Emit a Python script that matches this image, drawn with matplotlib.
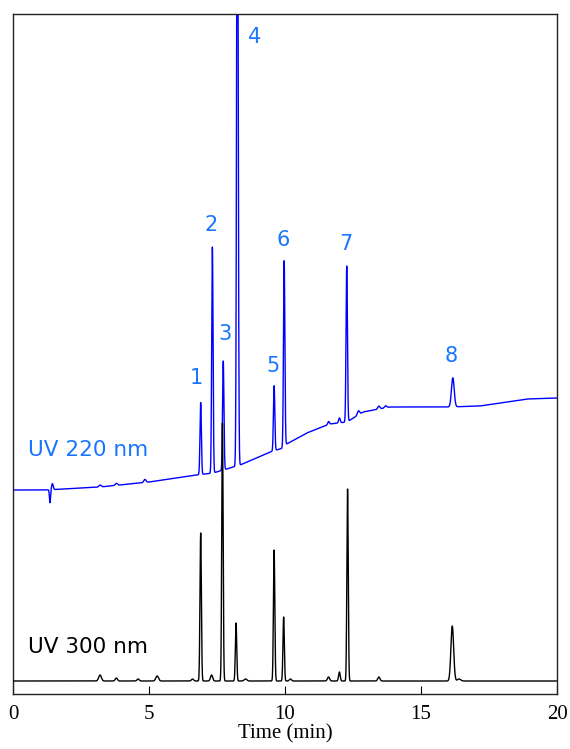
import numpy as np
import matplotlib
matplotlib.use("Agg")
import matplotlib.pyplot as plt

# retention times (min), heights and widths
# signal scale: arbitrary units, 0 = bottom of the frame, 680 = top

# UV 220 nm baseline (drift) knots
bl220_t = [0.0, 1.2, 3.2, 5.0, 6.75, 7.36, 8.35, 9.45, 9.93, 10.06, 10.8, 11.65, 12.28, 12.87, 13.86, 16.0, 17.16, 18.9, 20.0]
bl220_y = [204, 204, 207, 212, 219, 221, 229, 242, 246, 250, 261, 270, 272, 282, 287, 287, 288, 295, 296]

# UV 220 nm peaks: time, height, sigma
pk220_t = [1.36, 1.45, 3.2, 3.8, 4.85, 6.9, 7.33, 7.73, 8.25, 9.6, 9.97, 11.6, 12.0, 12.27, 12.7, 13.45, 13.7, 16.17]
pk220_h = [-13, 6, 2, 2, 3, 72, 226, 109, 700, 65, 186, 3, 5, 156, 4, 3, 2, 29]
pk220_w = [0.02, 0.03, 0.04, 0.04, 0.04, 0.025, 0.025, 0.025, 0.028, 0.025, 0.025, 0.03, 0.03, 0.025, 0.04, 0.04, 0.04, 0.05]

# UV 300 nm baseline and peaks
bl300_y = 13
pk300_t = [3.2, 3.8, 4.6, 5.3, 6.6, 6.9, 7.3, 7.7, 8.2, 8.55, 9.6, 9.95, 10.2, 11.6, 12.0, 12.3, 13.45, 16.15, 16.4]
pk300_h = [6, 3, 2, 5, 2, 148, 6, 258, 58, 2, 131, 64, 2, 4, 9, 192, 4, 55, 2]
pk300_w = [0.05, 0.04, 0.04, 0.05, 0.04, 0.025, 0.04, 0.025, 0.025, 0.05, 0.025, 0.025, 0.04, 0.04, 0.03, 0.025, 0.04, 0.05, 0.06]

peak_labels = ["1", "2", "3", "4", "5", "6", "7", "8"]
label_t = [6.75, 7.3, 7.8, 8.9, 9.55, 9.95, 12.25, 16.1]
label_y = [316, 469, 360, 657, 328, 454, 450, 338]


def trace(t, base, pt, ph, pw):
    y = np.asarray(base, dtype=float) + np.zeros_like(t)
    for c, h, w in zip(pt, ph, pw):
        y = y + h * np.exp(-0.5 * ((t - c) / w) ** 2)
    return y


t = np.linspace(0, 20, 8001)
y220 = trace(t, np.interp(t, bl220_t, bl220_y), pk220_t, pk220_h, pk220_w)
y300 = trace(t, bl300_y, pk300_t, pk300_h, pk300_w)

fig = plt.figure(figsize=(5.7, 7.49), dpi=100)
ax = fig.add_axes([13 / 570, 55 / 749, 544 / 570, 680 / 749])

ax.plot(t, y220, color="#0000ff", lw=1.0, zorder=2)
ax.plot(t, y300, color="black", lw=1.0, zorder=3)

lab_color = "#1a75ff"
for s, lt, ly in zip(peak_labels, label_t, label_y):
    ax.text(lt, ly, s, color=lab_color, fontsize=15, ha="center", va="center",
            family="DejaVu Sans")

ax.text(0.55, 244, "UV 220 nm", color=lab_color, fontsize=15.5, ha="left", va="center",
        family="DejaVu Sans")
ax.text(0.55, 47, "UV 300 nm", color="black", fontsize=15.5, ha="left", va="center",
        family="DejaVu Sans")

ax.set_xlim(0, 20)
ax.set_ylim(0, 680)
ax.set_xticks([0, 5, 10, 15, 20])
ax.set_yticks([])
ax.tick_params(axis="x", direction="in", length=6, width=0.8, pad=8)
for lbl in ax.get_xticklabels():
    lbl.set_family("Liberation Serif")
    lbl.set_fontsize(15)
ax.set_xlabel("Time (min)", family="Liberation Serif", fontsize=15, labelpad=0)
for sp in ax.spines.values():
    sp.set_linewidth(1.0)
    sp.set_color("#222222")

fig.savefig("out.png", dpi=100)
